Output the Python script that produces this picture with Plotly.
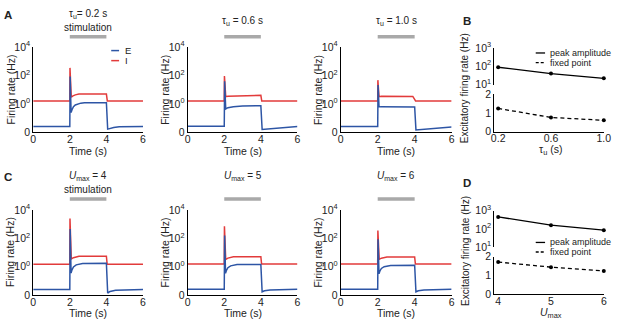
import plotly.graph_objects as go

W, H = 617, 325
FONT = "Liberation Sans, Arial, Helvetica, sans-serif"
BLUE = "#2d55a5"
RED = "#e23b3b"
GRAY = "#a9a9a9"

# ---------------- data ----------------
stim_on, stim_off = 2.0, 4.0

# panel A, tau_u = 0.2 s
t_E_tau02 = [0, 2.0, 2.02, 2.07, 2.12, 2.2, 2.3, 2.45, 2.6, 2.8, 4.0, 4.07, 4.2, 4.4, 4.7, 6]
E_tau02 = [0.026, 0.026, 88, 0.25, 0.4, 0.65, 0.85, 1.05, 1.15, 1.21, 1.24, 0.017, 0.019, 0.022, 0.025, 0.026]
t_I_tau02 = [0, 2.0, 2.01, 2.08, 2.15, 2.3, 2.5, 4.0, 4.05, 6]
I_tau02 = [1.65, 1.65, 350, 3.0, 3.6, 4.4, 5.0, 5.0, 1.65, 1.65]

# tau_u = 0.6 s
t_E_tau06 = [0, 2.0, 2.02, 2.08, 2.2, 2.5, 3.0, 3.5, 4.0, 4.07, 4.5, 5.0, 5.5, 6]
E_tau06 = [0.027, 0.027, 40, 0.45, 0.55, 0.65, 0.72, 0.75, 0.76, 0.016, 0.018, 0.021, 0.024, 0.026]
t_I_tau06 = [0, 2.0, 2.01, 2.08, 2.2, 3.0, 4.0, 4.05, 6]
I_tau06 = [1.6, 1.6, 95, 3.3, 3.5, 3.9, 4.1, 1.6, 1.6]

# tau_u = 1.0 s
t_E_tau10 = [0, 2.0, 2.02, 2.07, 2.15, 3.0, 4.0, 4.07, 5.0, 6]
E_tau10 = [0.026, 0.026, 22, 0.66, 0.63, 0.62, 0.61, 0.015, 0.019, 0.024]
t_I_tau10 = [0, 2.0, 2.01, 2.07, 2.2, 3.0, 3.9, 4.05, 6]
I_tau10 = [1.65, 1.65, 48, 3.3, 3.5, 3.5, 3.4, 1.65, 1.65]

# panel C, U_max = 4
t_E_u4 = [0, 2.0, 2.02, 2.07, 2.12, 2.2, 2.35, 2.5, 2.7, 4.0, 4.07, 4.2, 4.5, 6]
E_u4 = [0.025, 0.025, 450, 0.35, 0.6, 0.95, 1.35, 1.55, 1.7, 1.72, 0.014, 0.018, 0.022, 0.025]
t_I_u4 = [0, 2.0, 2.01, 2.08, 2.2, 2.5, 4.0, 4.04, 6]
I_u4 = [1.5, 1.5, 2500, 3.5, 4.3, 5.5, 5.5, 1.5, 1.5]

# U_max = 5
t_E_u5 = [0, 2.0, 2.02, 2.07, 2.12, 2.2, 2.35, 2.5, 2.7, 4.0, 4.07, 4.2, 4.5, 6]
E_u5 = [0.026, 0.026, 160, 0.35, 0.55, 0.85, 1.15, 1.3, 1.42, 1.45, 0.017, 0.02, 0.023, 0.026]
t_I_u5 = [0, 2.0, 2.01, 2.08, 2.2, 2.5, 4.0, 4.04, 6]
I_u5 = [1.55, 1.55, 700, 3.2, 4.0, 5.0, 5.0, 1.55, 1.55]

# U_max = 6
t_E_u6 = [0, 2.0, 2.02, 2.07, 2.12, 2.2, 2.35, 2.5, 2.7, 4.0, 4.07, 4.2, 4.5, 6]
E_u6 = [0.026, 0.026, 85, 0.32, 0.5, 0.75, 1.0, 1.15, 1.22, 1.25, 0.017, 0.02, 0.023, 0.026]
t_I_u6 = [0, 2.0, 2.01, 2.08, 2.2, 2.5, 4.0, 4.04, 6]
I_u6 = [1.55, 1.55, 350, 3.3, 4.0, 4.8, 4.8, 1.55, 1.55]

# panel B
tau_u = [0.2, 0.6, 1.0]
tau_peak = [88, 40, 22]
tau_fixed = [1.24, 0.76, 0.61]
tau_ticks = ["0.2", "0.6", "1.0"]

# panel D
umax = [4, 5, 6]
umax_peak = [450, 160, 85]
umax_fixed = [1.72, 1.45, 1.25]

time_ticks = [0, 2, 4, 6]
rate_tickvals = [0.01, 1, 100, 10000]
rate_ticktext = ["0", "10<sup>0</sup>", "10<sup>2</sup>", "10<sup>4</sup>"]

tau_titles = ["τ<sub>u</sub>= 0.2 s", "τ<sub>u</sub> = 0.6 s", "τ<sub>u</sub> = 1.0 s"]
umax_titles = ["<i>U</i><sub>max</sub> = 4", "<i>U</i><sub>max</sub> = 5", "<i>U</i><sub>max</sub> = 6"]

# ---------------- layout helpers ----------------
def fx(p):
    return p / W

def fy(p):
    return 1 - p / H

time_cols = [(30.7, 142.3), (187.7, 299.3), (343.3, 456.0)]
time_rows = [(41.0, 130.0), (211.0, 300.0)]
right_x = (499.3, 610.7)

fig = go.Figure()
layout = {}
annotations = []
shapes = []

tickfont = dict(family=FONT, size=10.5, color="#222")

def axname(n, kind):
    return kind + ("" if n == 1 else str(n))

def add_axes(n, xd, yd, xspec, yspec):
    xa = dict(domain=[fx(xd[0]), fx(xd[1])], anchor=axname(n, "y"), showgrid=False,
              zeroline=False, showline=True, linecolor="black", linewidth=1,
              ticks="", tickfont=tickfont, fixedrange=True, ticklabelstandoff=-3)
    ya = dict(domain=[fy(yd[1]), fy(yd[0])], anchor=axname(n, "x"), showgrid=False,
              zeroline=False, showline=True, linecolor="black", linewidth=1,
              ticks="", tickfont=tickfont, fixedrange=True)
    xa.update(xspec)
    ya.update(yspec)
    layout[axname(n, "xaxis")] = xa
    layout[axname(n, "yaxis")] = ya

series = [
    (t_E_tau02, E_tau02, t_I_tau02, I_tau02),
    (t_E_tau06, E_tau06, t_I_tau06, I_tau06),
    (t_E_tau10, E_tau10, t_I_tau10, I_tau10),
    (t_E_u4, E_u4, t_I_u4, I_u4),
    (t_E_u5, E_u5, t_I_u5, I_u5),
    (t_E_u6, E_u6, t_I_u6, I_u6),
]

n = 0
for r, yd in enumerate(time_rows):
    for c, xd in enumerate(time_cols):
        n += 1
        tE, E, tI, I = series[n - 1]
        add_axes(n, xd, yd,
                 dict(range=[0, 6], tickmode="array", tickvals=time_ticks),
                 dict(type="log", range=[-2, 4], tickmode="array",
                      tickvals=rate_tickvals, ticktext=rate_ticktext))
        xr, yr = axname(n, "x"), axname(n, "y")
        fig.add_trace(go.Scatter(x=tI, y=I, mode="lines", line=dict(color=RED, width=1.5),
                                 xaxis=xr, yaxis=yr, name="I", showlegend=False))
        fig.add_trace(go.Scatter(x=tE, y=E, mode="lines", line=dict(color=BLUE, width=1.5),
                                 xaxis=xr, yaxis=yr, name="E", showlegend=False))
        # stimulation bar
        bar_y = 30 if r == 0 else 199.5
        shapes.append(dict(type="line", xref=xr, yref="paper", x0=stim_on, x1=stim_off,
                           y0=fy(bar_y), y1=fy(bar_y), line=dict(color=GRAY, width=3.5)))
        cx = (xd[0] + xd[1]) / 2
        cy = (yd[0] + yd[1]) / 2
        # titles
        if r == 0:
            ttl_y = 6 if c == 0 else 14
            annotations.append(dict(text=tau_titles[c], x=fx(cx), y=fy(ttl_y)))
        else:
            annotations.append(dict(text=umax_titles[c], x=fx(cx), y=fy(176)))
        if c == 0:
            annotations.append(dict(text="stimulation", x=fx(cx), y=fy(20 if r == 0 else 190)))
        annotations.append(dict(text="Time (s)", x=fx(cx), y=fy(yd[1] + 19), size=10.5))
        annotations.append(dict(text="Firing rate (Hz)", x=fx(xd[0] - 23), y=fy(cy),
                                textangle=-90, size=10.5))

# panels B and D (broken axes)
right_rows = [((41.7, 80.0), (90.0, 129.3)), ((211.7, 250.0), (260.0, 299.3))]
right_data = [
    (tau_u, tau_peak, tau_fixed, [0.17, 1.0], dict(tickvals=tau_u, ticktext=tau_ticks),
     "τ<sub>u</sub> (s)"),
    (umax, umax_peak, umax_fixed, [3.925, 6.0], dict(tickvals=umax, ticktext=["4", "5", "6"]),
     "<i>U</i><sub>max</sub>"),
]
for k in range(2):
    (up, lo) = right_rows[k]
    xs, peak, fixed, xrng, xt, xtitle = right_data[k]
    n += 1
    add_axes(n, right_x, up,
             dict(range=xrng, visible=False),
             dict(type="log", range=[1, 3], tickmode="array", tickvals=[10, 100, 1000],
                  ticktext=["10<sup>1</sup>", "10<sup>2</sup>", "10<sup>3</sup>"]))
    fig.add_trace(go.Scatter(x=xs, y=peak, mode="lines+markers", cliponaxis=False,
                             line=dict(color="black", width=1.3),
                             marker=dict(color="black", size=4),
                             xaxis=axname(n, "x"), yaxis=axname(n, "y"),
                             name="peak amplitude", showlegend=False))
    n += 1
    add_axes(n, right_x, lo,
             dict(range=xrng, tickmode="array", **xt),
             dict(range=[0, 2], tickmode="array", tickvals=[0, 1, 2]))
    fig.add_trace(go.Scatter(x=xs, y=fixed, mode="lines+markers", cliponaxis=False,
                             line=dict(color="black", width=1.3, dash="4px,3px"),
                             marker=dict(color="black", size=4),
                             xaxis=axname(n, "x"), yaxis=axname(n, "y"),
                             name="fixed point", showlegend=False))
    cx = (right_x[0] + right_x[1]) / 2
    annotations.append(dict(text=xtitle, x=fx(cx + 2), y=fy(lo[1] + 19), size=10.5))
    annotations.append(dict(text="Excitatory firing rate (Hz)", x=fx(470),
                            y=fy((up[0] + lo[1]) / 2 - 2), textangle=-90, size=10))
    # legend
    ly1 = 47 if k == 0 else 245
    ly2 = ly1 + 10
    shapes.append(dict(type="line", xref="paper", yref="paper", x0=fx(541.5), x1=fx(551),
                       y0=fy(ly1), y1=fy(ly1), line=dict(color="black", width=1.3)))
    shapes.append(dict(type="line", xref="paper", yref="paper", x0=fx(541.5), x1=fx(551),
                       y0=fy(ly2), y1=fy(ly2), line=dict(color="black", width=1.3, dash="3px,2px")))
    annotations.append(dict(text="peak amplitude", x=fx(553.5), y=fy(ly1), xanchor="left", size=9))
    annotations.append(dict(text="fixed point", x=fx(553.5), y=fy(ly2), xanchor="left", size=9))

# legend for A
for lab, col, ly in [("E", BLUE, 44.5), ("I", RED, 55)]:
    shapes.append(dict(type="line", xref="paper", yref="paper", x0=fx(110), x1=fx(118),
                       y0=fy(ly), y1=fy(ly), line=dict(color=col, width=1.5)))
    annotations.append(dict(text=lab, x=fx(121.5), y=fy(ly), xanchor="left", size=9.5))

# panel letters
for lab, x, y in [("A", 5, 7), ("B", 472, 14), ("C", 5, 177), ("D", 472, 183)]:
    annotations.append(dict(text="<b>" + lab + "</b>", x=fx(x), y=fy(y), size=11.5))

ann_objs = []
for a in annotations:
    size = a.pop("size", 10)
    base = dict(xref="paper", yref="paper", showarrow=False, xanchor="center",
                yanchor="middle", font=dict(family=FONT, size=size, color="#222"))
    base.update(a)
    ann_objs.append(base)

fig.update_layout(
    width=W, height=H, margin=dict(l=0, r=0, t=0, b=0),
    paper_bgcolor="white", plot_bgcolor="white",
    showlegend=False, annotations=ann_objs, shapes=shapes,
    font=dict(family=FONT, size=10, color="#222"),
    **layout,
)

fig.write_html(
    "out.html",
    config={"displayModeBar": False},
    post_script="document.body.style.margin='0';document.body.style.overflow='hidden';",
)
